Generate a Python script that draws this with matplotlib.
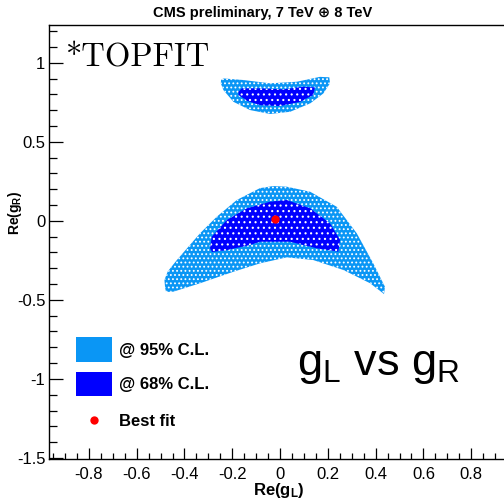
import numpy as np
import matplotlib
matplotlib.use("Agg")
import matplotlib.pyplot as plt
from matplotlib.patches import Polygon, Patch
from matplotlib.lines import Line2D
from matplotlib.ticker import MultipleLocator, FuncFormatter

plt.rcParams['font.family'] = ['Liberation Sans', 'DejaVu Sans']
plt.rcParams['axes.unicode_minus'] = False
plt.rcParams['mathtext.fontset'] = 'custom'
plt.rcParams['mathtext.rm'] = 'Liberation Sans'
plt.rcParams['mathtext.bf'] = 'Liberation Sans:bold'
plt.rcParams['hatch.linewidth'] = 0.8

# contour outlines, Re(gL) / Re(gR)
low95_x = [-0.481, -0.484, -0.470, -0.432, -0.335, -0.265, -0.181, -0.084, -0.029, 0.028,
           0.126, 0.237, 0.321, 0.390, 0.439, 0.435, 0.377, 0.265, 0.139, 0.028,
           -0.084, -0.195, -0.335, -0.446, -0.477]
low95_y = [-0.425, -0.374, -0.320, -0.248, -0.079, 0.026, 0.132, 0.207, 0.220, 0.216,
           0.184, 0.089, -0.079, -0.269, -0.417, -0.463, -0.395, -0.311, -0.248, -0.231,
           -0.269, -0.322, -0.395, -0.448, -0.450]

low68_x = [-0.293, -0.286, -0.223, -0.139, -0.042, 0.028, 0.126, 0.209, 0.251, 0.244,
           0.154, 0.042, -0.084, -0.126, -0.223, -0.285]
low68_y = [-0.174, -0.101, 0.005, 0.079, 0.121, 0.132, 0.079, -0.016, -0.121, -0.195,
           -0.174, -0.132, -0.132, -0.153, -0.185, -0.197]

up95_x = [-0.247, -0.237, -0.154, -0.042, 0.070, 0.167, 0.206, 0.209, 0.181, 0.126,
          0.042, -0.042, -0.126, -0.195, -0.237, -0.248]
up95_y = [0.891, 0.901, 0.891, 0.870, 0.880, 0.911, 0.908, 0.870, 0.806, 0.743,
          0.690, 0.676, 0.701, 0.753, 0.827, 0.870]

up68_x = [-0.174, -0.160, -0.084, 0.014, 0.097, 0.146, 0.139, 0.084, 0.0, -0.084,
          -0.139, -0.174]
up68_y = [0.817, 0.838, 0.838, 0.832, 0.848, 0.844, 0.796, 0.753, 0.726, 0.732,
          0.760, 0.796]

best_x = [-0.02]
best_y = [0.01]

c95 = '#0a96f5'
c68 = '#0000ff'

fig = plt.figure(figsize=(5.04, 5.01), dpi=100)
ax = fig.add_axes([0.0982, 0.0844, 0.915, 0.866])


def add_region(xs, ys, color, hatch):
    pts = np.column_stack([xs, ys])
    ax.add_patch(Polygon(pts, closed=True, facecolor=color, edgecolor='none', lw=0))
    # white speckle, like the scattered toy points in the original
    ax.add_patch(Polygon(pts, closed=True, facecolor='none', edgecolor='white',
                         hatch=hatch, lw=0))


add_region(low95_x, low95_y, c95, '....')
add_region(up95_x, up95_y, c95, '....')
add_region(low68_x, low68_y, c68, '...')
add_region(up68_x, up68_y, c68, '...')
ax.plot(best_x, best_y, 'o', color='red', ms=6, mec='none')

ax.set_xlim(-0.965, 0.965)
ax.set_ylim(-1.505, 1.24)

ax.xaxis.set_major_locator(MultipleLocator(0.2))
ax.xaxis.set_minor_locator(MultipleLocator(0.05))
ax.yaxis.set_major_locator(MultipleLocator(0.5))
ax.yaxis.set_minor_locator(MultipleLocator(0.1))
fmt = FuncFormatter(lambda v, p: '%g' % round(v, 2))
ax.xaxis.set_major_formatter(fmt)
ax.yaxis.set_major_formatter(fmt)
ax.tick_params(axis='x', which='major', direction='in', length=8, width=0.9, pad=6, labelsize=12)
ax.tick_params(axis='x', which='minor', direction='in', length=4.5, width=0.9)
ax.tick_params(axis='y', which='major', direction='in', length=10, width=0.9, pad=3, labelsize=12)
ax.tick_params(axis='y', which='minor', direction='in', length=5.5, width=0.9)
for s in ax.spines.values():
    s.set_linewidth(1.0)

ax.set_xlabel(r'$\mathbf{Re(g_L)}$', fontsize=12)
ax.set_ylabel(r'$\mathbf{Re(g_R)}$', fontsize=10)
ax.yaxis.set_label_coords(-0.055, 0.566)
ax.xaxis.set_label_coords(0.497, -0.052)

fig.text(0.522, 0.975, u'CMS preliminary, 7 TeV \u2295 8 TeV', ha='center', va='center',
         fontsize=10.5, fontweight='bold')
ax.text(0.035, 0.905, '*TOPFIT', transform=ax.transAxes, family='cmr10', fontsize=23.5,
        ha='left', va='baseline')
ax.text(0.536, 0.193, r'g$_\mathrm{L}$ vs g$_\mathrm{R}$', transform=ax.transAxes,
        fontsize=32.5, ha='left', va='baseline')

leg_font = {'size': 12, 'weight': 'bold'}
cl_handles = [Patch(facecolor=c95, edgecolor='none'),
              Patch(facecolor=c68, edgecolor='none')]
cl_labels = ['@ 95% C.L.', '@ 68% C.L.']
leg1 = ax.legend(cl_handles, cl_labels, loc='upper left', bbox_to_anchor=(0.057, 0.2804),
                 frameon=False, prop=leg_font, handlelength=2.15, handleheight=1.92,
                 labelspacing=0.58, handletextpad=0.42, borderpad=0, borderaxespad=0)
ax.add_artist(leg1)

bf_handle = [Line2D([], [], ls='none', marker='o', color='red', ms=6, mec='none')]
ax.legend(bf_handle, ['Best fit'], loc='center left', bbox_to_anchor=(0.057, 0.0853),
          frameon=False, prop=leg_font, handlelength=2.15, handletextpad=0.42,
          borderpad=0, borderaxespad=0)

fig.savefig('out.png', dpi=100)
